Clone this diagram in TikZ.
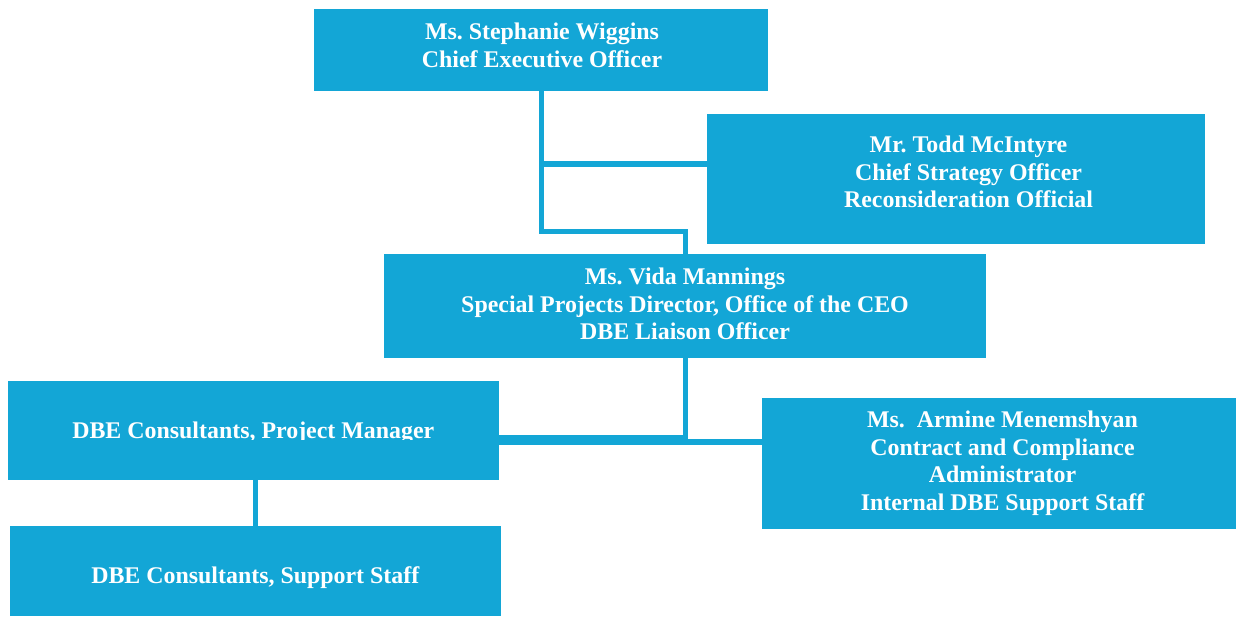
\documentclass[tikz,border=0pt]{standalone}
\usepackage{fontspec}
\setmainfont{Liberation Serif}
\frenchspacing
\definecolor{orgblue}{RGB}{19,166,214}
\begin{document}
\begin{tikzpicture}[x=1pt,y=-1pt,
  box/.style={fill=orgblue, draw=none, inner sep=0pt},
  txt/.style={text=white, inner sep=0pt, align=center,
    font=\fontsize{23.9}{27.5}\selectfont\bfseries\frenchspacing},
  conn/.style={draw=orgblue, line width=5pt}]
\useasboundingbox (0,0) rectangle (1236,616);
% boxes
\node[box, minimum width=454pt, minimum height=82pt] (ceo) at (541,50) {};
\node[box, minimum width=498pt, minimum height=129.7pt] (todd) at (956,178.85) {};
\node[box, minimum width=602pt, minimum height=104pt] (vida) at (685,306) {};
\node[box, minimum width=491pt, minimum height=98.7pt] (pm) at (253.5,430.35) {};
\node[box, minimum width=474pt, minimum height=130.7pt] (arm) at (999,463.35) {};
\node[box, minimum width=491pt, minimum height=90pt] (sup) at (255.5,571) {};
% texts
\node[txt, anchor=north] (ceo-t) at (542,22.3)
  {\rule{0pt}{17pt}Ms. Stephanie Wiggins\\Chief Executive Officer};
\node[txt, anchor=north] (todd-t) at (968.5,135.3)
  {\rule{0pt}{17pt}Mr. Todd McIntyre\\Chief Strategy Officer\\Reconsideration Official};
\node[txt, anchor=north] (vida-t) at (685,267.7)
  {\rule{0pt}{17pt}Ms. Vida Mannings\\Special Projects Director, Office of the CEO\\DBE Liaison Officer};
\node[txt, anchor=north] (arm-t) at (1002.5,410.3)
  {\rule{0pt}{17pt}Ms.\ \ Armine Menemshyan\\Contract and Compliance\\Administrator\\Internal DBE Support Staff};
\begin{scope}
  \clip (pm.north west) rectangle (pm.east |- 0,439.5);
  \node[txt, anchor=base] (pm-t) at (253.3,438.3) {DBE Consultants, Project Manager};
\end{scope}
\node[txt, anchor=base] (sup-t) at (255.3,583.3) {DBE Consultants, Support Staff};
% connectors
\coordinate (j1) at (540.8,164);
\draw[conn] (ceo.south) -- ++(0,140.7) -| (vida.north);
\draw[conn, line width=6pt] (j1) -- (j1 -| todd.west);
\coordinate (j2) at (685.2,440);
\coordinate (j3) at (682.7,442);
\draw[conn] (vida.south) -- ([yshift=-5pt]vida.south |- j2);
\draw[conn, line width=10pt] (pm.east |- j2) -- (j2);
\draw[conn, line width=6pt] (j3) -- (j3 -| arm.west);
\draw[conn] (sup.north |- pm.south) -- (sup.north);
\end{tikzpicture}
\end{document}
